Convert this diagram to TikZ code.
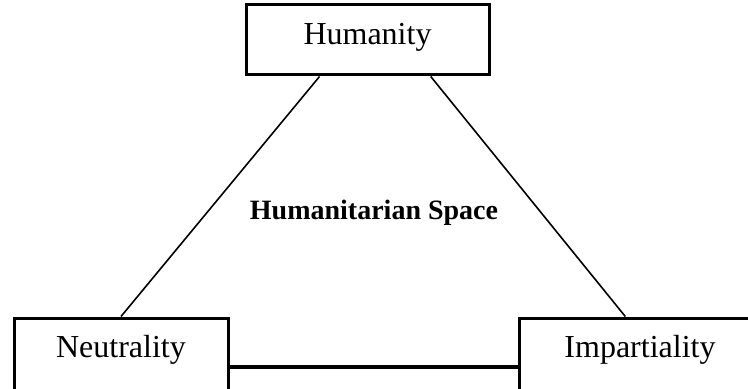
\documentclass[tikz,border=0pt]{standalone}
\usepackage{fontspec}
\setmainfont{Liberation Serif}
\usepackage{tikz}
\usetikzlibrary{positioning, calc}

\begin{document}
\begin{tikzpicture}
    [x=1pt, y=1pt,
      box/.style={draw, line width=1.5pt, inner ysep=0pt, align=center,
        font=\fontsize{16}{19}\selectfont},
      link/.style={line width=0.8pt}]

    \useasboundingbox (0,0) rectangle (374,-194.5);
    \clip (0,0) rectangle (374,-194.5);

    \node[box, minimum width=107pt, text height=19.5pt, text depth=19.5pt]
    (neu) at (60.5,-178.5) {Neutrality};
    \node[right=144pt of neu, box, minimum width=121pt,
      text height=19.5pt, text depth=19.5pt] (imp) {Impartiality};
    \node[above right=120pt and 7.5pt of neu, box, minimum width=121.5pt,
      text height=20pt, text depth=15pt] (hum) {Humanity};
    \node[font=\fontsize{14}{17}\selectfont\bfseries] (space) at (187,-106.5)
    {Humanitarian Space};

    \draw[link] ($(hum.south west)!0.305!(hum.south east)$) -- (neu.north);
    \draw[link] ($(hum.south west)!0.757!(hum.south east)$)
    -- ($(imp.north west)!0.44!(imp.north east)$);
    \draw[line width=1.6pt] ([yshift=-5pt]neu.east) -- ([yshift=-5pt]imp.west);
  \end{tikzpicture}
\end{document}
